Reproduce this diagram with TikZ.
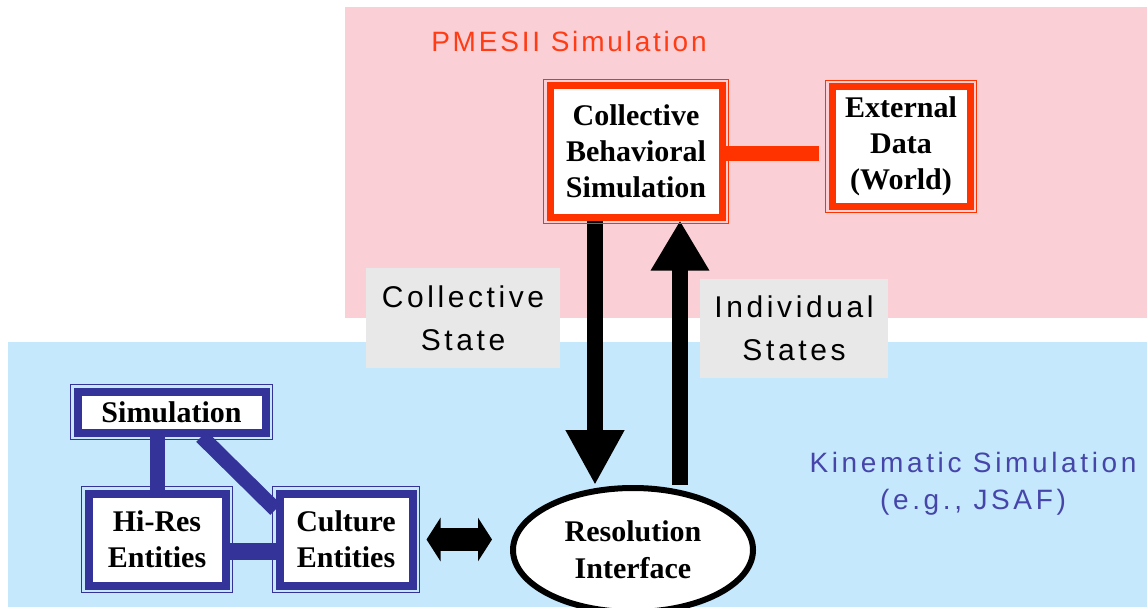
\documentclass[tikz,border=0pt]{standalone}
\usepackage{fontspec}
\setmainfont{Liberation Serif}
\setsansfont{Liberation Sans}
\newfontfamily\statefont{Liberation Sans}[LetterSpace=12]
\newfontfamily\kinfont{Liberation Sans}[LetterSpace=13]
\newfontfamily\pmfont{Liberation Sans}[LetterSpace=10]
\usetikzlibrary{arrows.meta,positioning,shapes.geometric,backgrounds}
\definecolor{PinkBg}{RGB}{251,207,214}
\definecolor{BlueBg}{RGB}{197,232,252}
\definecolor{BoxRed}{RGB}{255,51,0}
\definecolor{TitleRed}{RGB}{255,60,20}
\definecolor{BoxBlue}{RGB}{51,51,153}
\definecolor{KinBlue}{RGB}{70,70,170}
\definecolor{StateGray}{RGB}{232,232,232}
\pgfdeclarelayer{links}
\pgfsetlayers{background,links,main}
\tikzset{
  redbox/.style={draw=BoxRed,line width=7pt,fill=white,inner sep=0pt,align=center,font=\bfseries\fontsize{30}{36}\selectfont},
  bluebox/.style={draw=BoxBlue,line width=8pt,fill=white,inner sep=0pt,align=center,font=\bfseries\fontsize{30}{36}\selectfont},
  rim/.style={line width=1.5pt},
  statebox/.style={fill=StateGray,inner sep=0pt,align=center,font=\statefont\fontsize{30}{43}\selectfont},
  redlink/.style={draw=BoxRed,line width=15pt},
  bluelink/.style={draw=BoxBlue,line width=15pt},
  bigarrow/.style={line width=16pt},
  dblarrow/.style={{Triangle[length=14pt,width=43pt]}-{Triangle[length=14pt,width=43pt]},line width=23pt}
}
\begin{document}
\begin{tikzpicture}[x=1pt,y=-1pt]
\useasboundingbox (0,0) rectangle (1147,607);

% the two simulation areas
\begin{scope}[on background layer]
\fill[PinkBg] (345,7) rectangle (1147,318);
\fill[BlueBg] (8,342) rectangle (1147,607);
\end{scope}

\node[TitleRed,font=\pmfont\fontsize{28}{30}\selectfont] (pmesii) at (569,41) {PMESII Simulation};
\node[KinBlue,align=center,font=\kinfont\fontsize{28}{37}\selectfont] (kin) at (973,483.5) {Kinematic Simulation\\(e.g., JSAF)};

% PMESII side
\node[redbox,minimum width=172pt,minimum height=131pt] (cbs) at (636,151.5) {Collective\\Behavioral\\Simulation};
\node[redbox,minimum width=138pt,minimum height=119pt] (ext) at (901,146.5) {External\\Data\\(World)};

% kinematic side
\node[bluebox,minimum width=188pt,minimum height=41pt] (sim) at (171.5,412) {Simulation};
\node[bluebox,minimum width=137pt,minimum height=92pt] (hires) at (157,539.5) {Hi-Res\\Entities};
\node[bluebox,minimum width=133pt,minimum height=92pt] (cult) at (346,539.5) {Culture\\Entities};

\node[ellipse,draw,line width=6pt,fill=white,inner sep=0pt,minimum width=240pt,minimum height=124pt,align=center,font=\bfseries\fontsize{30}{37}\selectfont] (res) at (633,550) {Resolution\\Interface};

\node[statebox,minimum width=194pt,minimum height=100pt] (cstate) at (463,318) {Collective\\State};
\node[statebox,minimum width=188pt,minimum height=99pt] (istate) at (794,328.5) {Individual\\States};

\foreach \n/\c in {cbs/BoxRed,ext/BoxRed,sim/BoxBlue,hires/BoxBlue,cult/BoxBlue}
  \draw[rim,\c] ([xshift=-3pt,yshift=3pt]\n.north west) rectangle ([xshift=3pt,yshift=-3pt]\n.south east);

\coordinate (dnx) at (595,0);
\coordinate (upx) at (680,0);

\begin{pgfonlayer}{links}
\draw[redlink,shorten >=10pt] ([yshift=-2pt]cbs.east) -- ([yshift=-2pt]cbs.east -| ext.west);
\draw[bluelink] (hires.north) -- (hires.north |- sim.south);
\draw[bluelink] ([xshift=30pt]sim.south) -- ([yshift=30pt]cult.west);
\draw[bluelink,line width=17pt] ([yshift=-11.5pt]hires.east) -- ([yshift=-11.5pt]cult.west);
\draw[bigarrow,-{Triangle[length=55pt,width=55pt]}] (cbs.south -| dnx) -- (res.north -| dnx);
\draw[bigarrow,-{Triangle[length=50pt,width=55pt]}] (res.north -| upx) -- (cbs.south -| upx);
\end{pgfonlayer}
\draw[dblarrow] ([xshift=10pt]cult.east) -- ([xshift=-18pt]res.west |- cult.east);
\end{tikzpicture}
\end{document}
